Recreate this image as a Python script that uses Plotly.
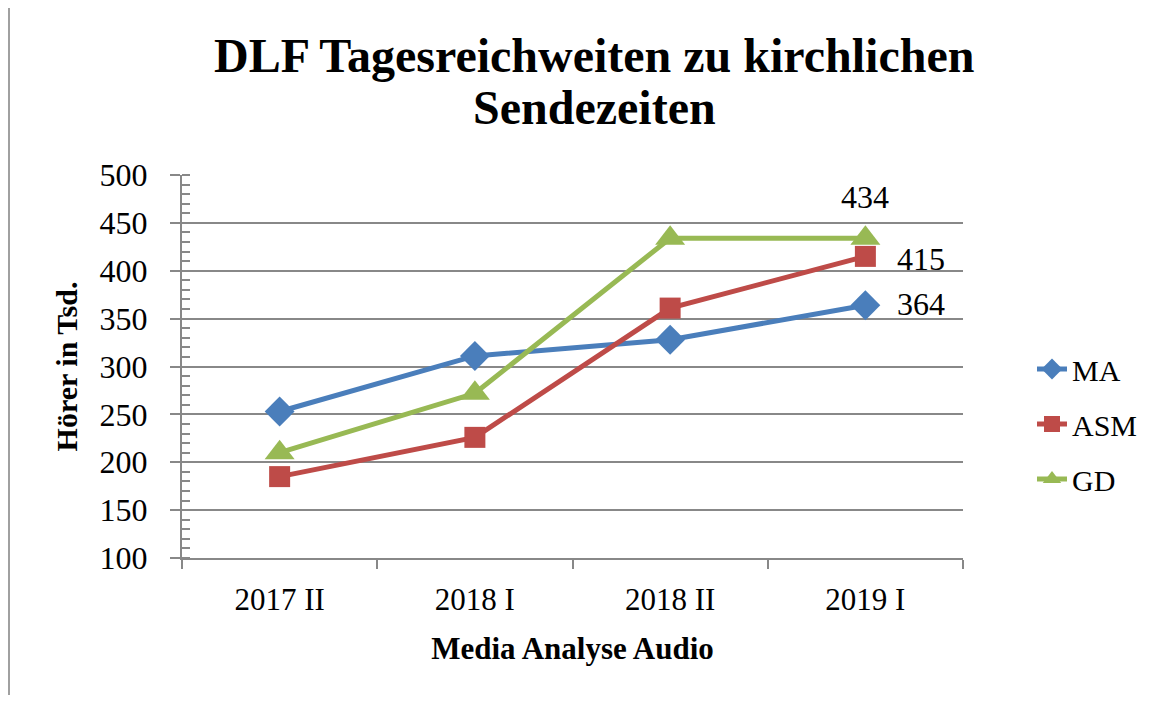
import plotly.graph_objects as go

categories = ["2017 II", "2018 I", "2018 II", "2019 I"]
ma = [253, 311, 328, 364]
asm = [185, 226, 361, 415]
gd = [210, 272, 434, 434]

series = [
    ("MA", ma, "#4A7EBB", "diamond", 23),
    ("ASM", asm, "#BE4B48", "square", 21),
    ("GD", gd, "#98B954", "triangle-up", 26),
]

FONT = "Liberation Serif"
GRAY = "#888888"

# the page body adds an 8px offset; work in target pixels minus that offset
OFF = 8
W, H = 1172 - OFF, 702 - OFF
pl, pt = 182 - OFF, 175 - OFF
pr, pb = W - (963 - OFF), H - (558 - OFF)
pw, ph = W - pl - pr, H - pt - pb


def px_x(x):
    return (x - OFF - pl) / pw


def px_y(y):
    return (H - pb - (y - OFF)) / ph


fig = go.Figure()
for name, vals, color, sym, size in series:
    fig.add_trace(go.Scatter(
        x=categories, y=vals, name=name, legendgroup=name,
        mode="lines+markers",
        line=dict(color=color, width=5),
        marker=dict(symbol=sym, size=size, color=color),
        cliponaxis=False,
    ))

last_x = categories[-1]
lab_font = dict(family=FONT, size=32, color="#000000")
annotations = [
    dict(x=last_x, y=ma[-1], xref="x", yref="y", text=str(ma[-1]), showarrow=False,
         xanchor="left", yanchor="middle", xshift=30, yshift=1, font=lab_font),
    dict(x=last_x, y=asm[-1], xref="x", yref="y", text=str(asm[-1]), showarrow=False,
         xanchor="left", yanchor="middle", xshift=30, yshift=-3, font=lab_font),
    dict(x=last_x, y=gd[-1], xref="x", yref="y", text=str(gd[-1]), showarrow=False,
         xanchor="center", yanchor="middle", xshift=0, yshift=41, font=lab_font),
    dict(x=px_x(594), y=px_y(55), xref="paper", yref="paper",
         text="<b>DLF Tagesreichweiten zu kirchlichen</b>",
         showarrow=False, xanchor="center", yanchor="middle",
         font=dict(family=FONT, size=48, color="#000000")),
    dict(x=px_x(594), y=px_y(108), xref="paper", yref="paper",
         text="<b>Sendezeiten</b>",
         showarrow=False, xanchor="center", yanchor="middle",
         font=dict(family=FONT, size=48, color="#000000")),
]

fig.update_layout(
    width=W, height=H,
    paper_bgcolor="white", plot_bgcolor="white",
    margin=dict(l=pl, r=pr, t=pt, b=pb, autoexpand=False),
    annotations=annotations,
    legend=dict(
        x=px_x(1032), xanchor="left", y=px_y(424), yanchor="middle",
        font=dict(family=FONT, size=30, color="#000000"),
        bgcolor="rgba(0,0,0,0)", tracegroupgap=13,
    ),
    shapes=[dict(type="line", xref="paper", yref="paper",
                 x0=px_x(9), x1=px_x(9), y0=px_y(695), y1=px_y(7),
                 line=dict(color="#A0A0A0", width=2))],
)

fig.update_xaxes(
    type="category", tickson="boundaries", range=[-0.5, 3.5], automargin=False,
    showline=True, linecolor=GRAY, linewidth=2,
    ticks="outside", ticklen=9, tickwidth=2, tickcolor=GRAY,
    showgrid=False,
    tickfont=dict(family=FONT, size=31, color="#000000"),
    ticklabelstandoff=13,
    title=dict(text="<b>Media Analyse Audio</b>", standoff=21,
               font=dict(family=FONT, size=31, color="#000000")),
)
fig.update_yaxes(
    range=[100, 500], dtick=50, tick0=100, automargin=False,
    showline=True, linecolor=GRAY, linewidth=2,
    showgrid=True, gridcolor=GRAY, gridwidth=2,
    ticks="outside", ticklen=10, tickwidth=2, tickcolor=GRAY,
    minor=dict(dtick=10, ticks="inside", ticklen=8, tickwidth=2, tickcolor=GRAY, showgrid=False),
    tickfont=dict(family=FONT, size=32, color="#000000"),
    ticklabelstandoff=16,
    zeroline=False,
    title=dict(text="<b>Hörer in Tsd.</b>", standoff=13,
               font=dict(family=FONT, size=30, color="#000000")),
)

fig.write_html("out.html")
